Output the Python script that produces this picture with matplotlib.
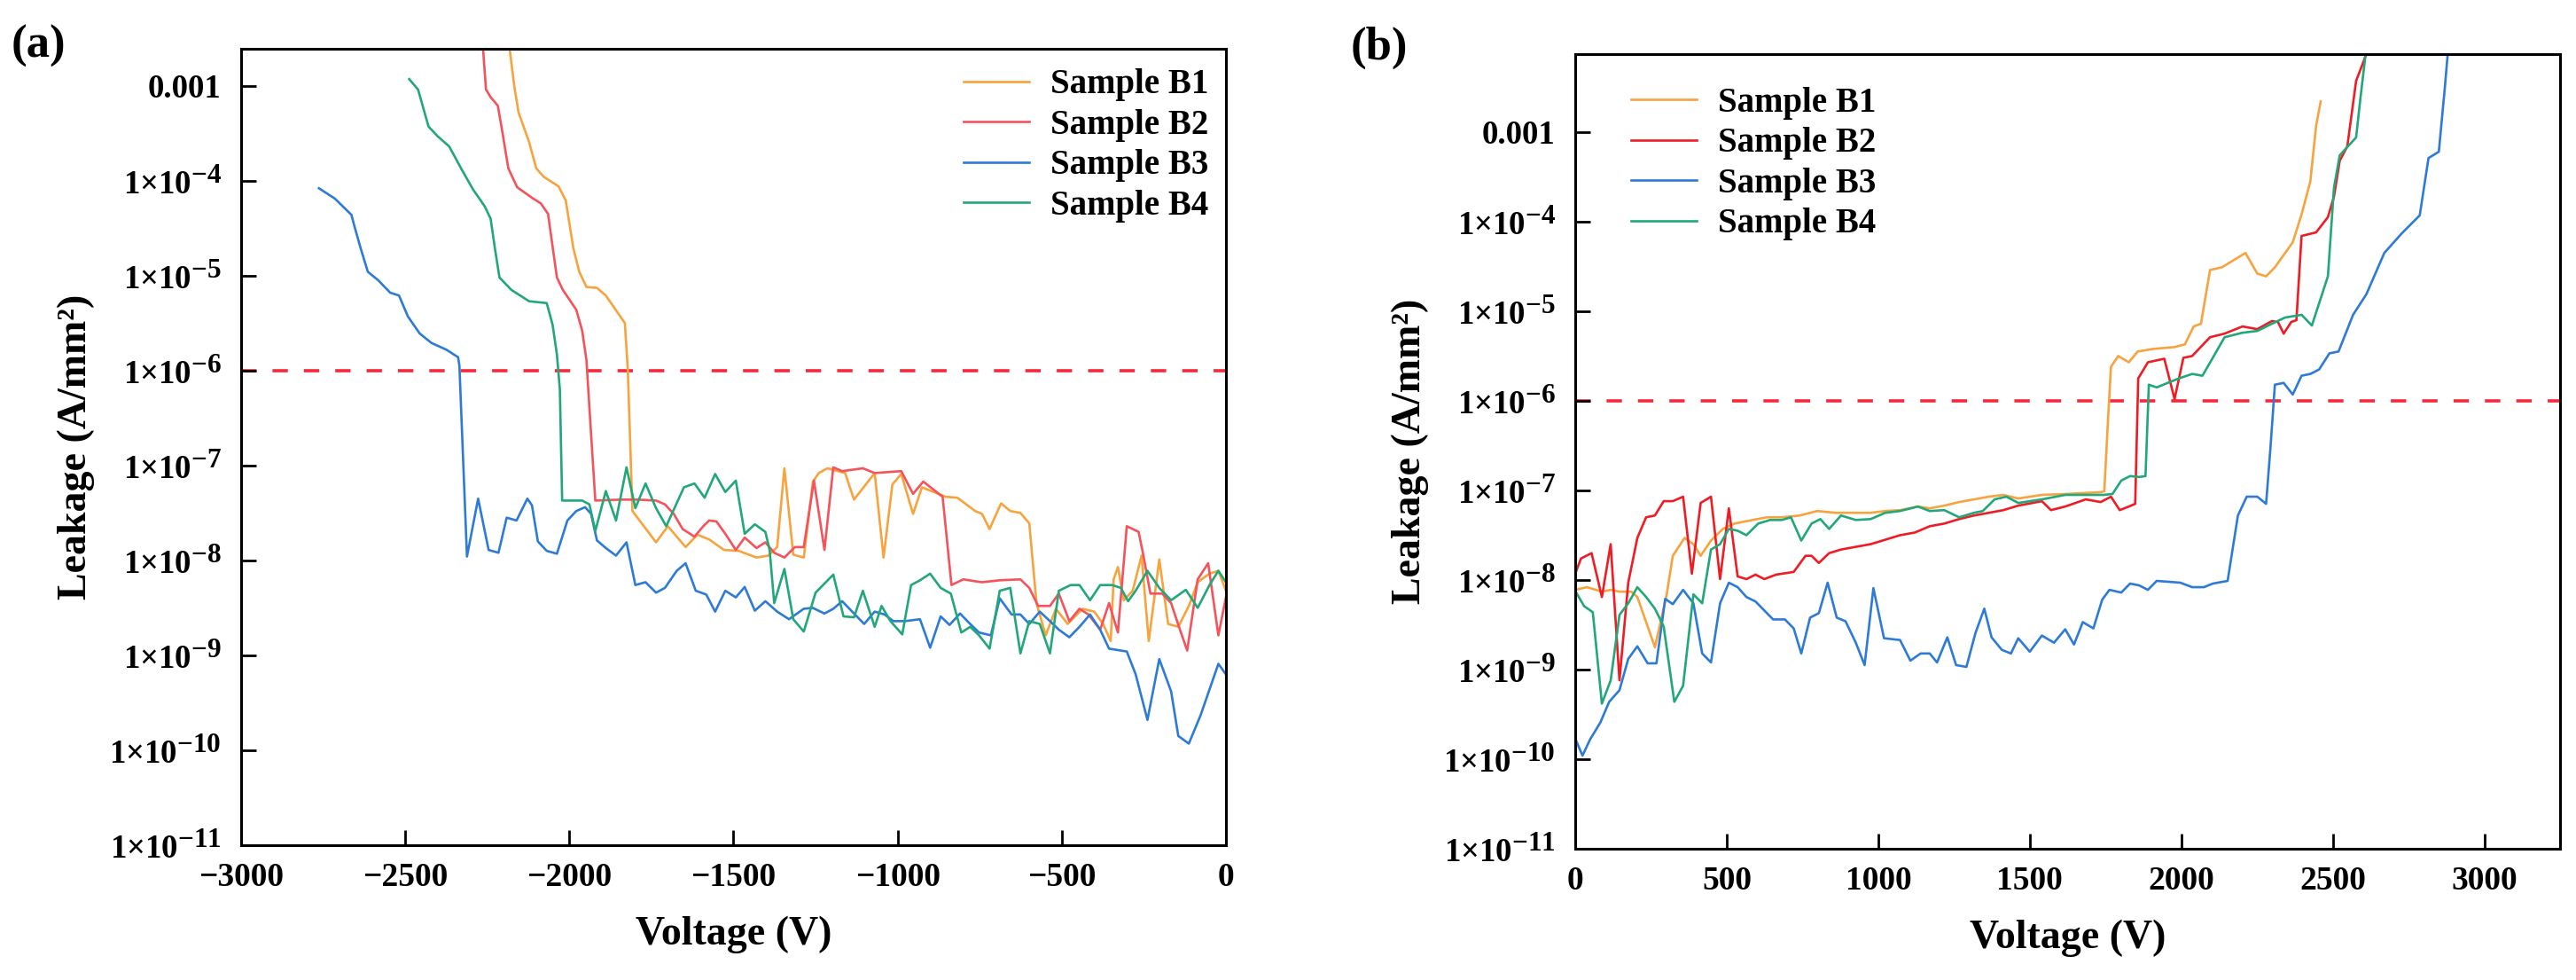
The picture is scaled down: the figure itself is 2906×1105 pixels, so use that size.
import numpy as np
import matplotlib
matplotlib.use("Agg")
import matplotlib.pyplot as plt
import matplotlib._mathtext as mathtext_impl
from matplotlib.ticker import FixedLocator, FuncFormatter, NullLocator

plt.rcParams['font.family'] = ['Liberation Serif', 'DejaVu Serif']
plt.rcParams['font.weight'] = 'bold'
plt.rcParams['mathtext.fontset'] = 'custom'
plt.rcParams['mathtext.rm'] = 'Liberation Serif:bold'
plt.rcParams['mathtext.bf'] = 'Liberation Serif:bold'
plt.rcParams['mathtext.it'] = 'Liberation Serif:bold'
# exponents in the original tick labels are almost full size
mathtext_impl.SHRINK_FACTOR = 0.85

# (voltage V, log10 leakage A/mm^2)
a_b1 = [(-2195, -2.40), (-2182, -2.61), (-2168, -3.00), (-2155, -3.28), (-2123, -3.59),
        (-2101, -3.87), (-2078, -3.96), (-2033, -4.06), (-2011, -4.21), (-1988, -4.71),
        (-1970, -4.96), (-1948, -5.12), (-1916, -5.13), (-1889, -5.21), (-1831, -5.50),
        (-1822, -5.99), (-1808, -7.48), (-1736, -7.81), (-1700, -7.64), (-1646, -7.86),
        (-1610, -7.73), (-1574, -7.78), (-1529, -7.89), (-1484, -7.90), (-1430, -7.97),
        (-1394, -7.95), (-1367, -7.86), (-1345, -7.03), (-1318, -7.94), (-1286, -7.97),
        (-1258, -7.17), (-1240, -7.08), (-1214, -7.03), (-1160, -7.08), (-1133, -7.36),
        (-1070, -7.08), (-1043, -7.97), (-1016, -7.20), (-989, -7.09), (-953, -7.51),
        (-926, -7.23), (-854, -7.33), (-818, -7.34), (-764, -7.48), (-743, -7.51),
        (-720, -7.67), (-685, -7.40), (-657, -7.48), (-626, -7.50), (-599, -7.61),
        (-577, -8.45), (-549, -8.79), (-518, -8.51), (-482, -8.67), (-437, -8.51),
        (-401, -8.54), (-374, -8.67), (-351, -8.85), (-342, -8.20), (-329, -8.07),
        (-311, -8.42), (-284, -8.32), (-257, -7.95), (-235, -8.85), (-203, -7.99),
        (-176, -8.67), (-145, -8.70), (-113, -8.48), (-86, -8.23), (-50, -8.14),
        (-23, -8.11), (0, -8.32)]

a_b2 = [(-2270, -2.30), (-2263, -2.61), (-2254, -3.04), (-2240, -3.12), (-2218, -3.21),
        (-2204, -3.49), (-2186, -3.87), (-2159, -4.07), (-2114, -4.18), (-2087, -4.24),
        (-2065, -4.35), (-2038, -5.02), (-2020, -5.15), (-1979, -5.36), (-1961, -5.58),
        (-1948, -5.89), (-1939, -6.39), (-1921, -7.37), (-1844, -7.36), (-1790, -7.36),
        (-1736, -7.37), (-1709, -7.41), (-1682, -7.51), (-1655, -7.67), (-1619, -7.75),
        (-1592, -7.64), (-1574, -7.58), (-1552, -7.59), (-1525, -7.72), (-1493, -7.89),
        (-1466, -7.76), (-1430, -7.87), (-1403, -7.81), (-1376, -7.92), (-1345, -7.97),
        (-1313, -7.86), (-1286, -7.86), (-1255, -7.16), (-1223, -7.89), (-1196, -7.02),
        (-1169, -7.06), (-1106, -7.03), (-1070, -7.08), (-989, -7.06), (-953, -7.30),
        (-922, -7.17), (-863, -7.33), (-836, -8.26), (-800, -8.20), (-764, -8.22),
        (-743, -8.23), (-689, -8.21), (-626, -8.20), (-599, -8.29), (-572, -8.48),
        (-536, -8.48), (-509, -8.35), (-477, -8.64), (-446, -8.51), (-419, -8.57),
        (-383, -8.73), (-356, -8.45), (-329, -8.76), (-302, -7.64), (-266, -7.70),
        (-253, -7.92), (-230, -8.35), (-194, -8.35), (-167, -8.45), (-140, -8.73),
        (-118, -8.95), (-86, -8.20), (-54, -8.03), (-23, -8.79), (0, -8.39)]

a_b3 = [(-2763, -4.08), (-2714, -4.19), (-2664, -4.36), (-2654, -4.49), (-2636, -4.71),
        (-2614, -4.96), (-2582, -5.05), (-2546, -5.18), (-2519, -5.21), (-2492, -5.43),
        (-2456, -5.61), (-2420, -5.71), (-2375, -5.78), (-2339, -5.86), (-2335, -5.95),
        (-2312, -7.96), (-2278, -7.35), (-2246, -7.89), (-2216, -7.92), (-2191, -7.55),
        (-2161, -7.58), (-2128, -7.35), (-2114, -7.42), (-2096, -7.80), (-2069, -7.90),
        (-2038, -7.93), (-2006, -7.58), (-1979, -7.48), (-1952, -7.44), (-1934, -7.51),
        (-1916, -7.79), (-1889, -7.87), (-1858, -7.95), (-1826, -7.81), (-1799, -8.26),
        (-1768, -8.23), (-1736, -8.34), (-1709, -8.29), (-1673, -8.11), (-1646, -8.03),
        (-1615, -8.32), (-1583, -8.36), (-1556, -8.54), (-1525, -8.32), (-1493, -8.39),
        (-1466, -8.28), (-1435, -8.53), (-1403, -8.43), (-1367, -8.54), (-1331, -8.62),
        (-1286, -8.51), (-1259, -8.50), (-1223, -8.56), (-1196, -8.51), (-1169, -8.43),
        (-1133, -8.56), (-1102, -8.67), (-1070, -8.54), (-1040, -8.57), (-1013, -8.64),
        (-977, -8.64), (-932, -8.62), (-901, -8.92), (-869, -8.59), (-842, -8.68),
        (-810, -8.56), (-779, -8.67), (-752, -8.76), (-716, -8.79), (-689, -8.40),
        (-653, -8.57), (-626, -8.57), (-599, -8.67), (-567, -8.54), (-536, -8.64),
        (-509, -8.73), (-477, -8.81), (-446, -8.70), (-414, -8.57), (-383, -8.73),
        (-356, -8.93), (-302, -8.96), (-275, -9.20), (-239, -9.68), (-203, -9.04),
        (-167, -9.38), (-145, -9.85), (-113, -9.93), (-77, -9.63), (-23, -9.09),
        (0, -9.20)]

a_b4 = [(-2488, -2.93), (-2461, -3.04), (-2429, -3.43), (-2402, -3.53), (-2366, -3.64),
        (-2330, -3.87), (-2294, -4.09), (-2258, -4.27), (-2240, -4.40), (-2227, -4.71),
        (-2213, -5.02), (-2177, -5.15), (-2123, -5.27), (-2069, -5.29), (-2051, -5.52),
        (-2038, -5.83), (-2029, -6.20), (-2022, -7.37), (-1961, -7.37), (-1939, -7.41),
        (-1921, -7.69), (-1889, -7.27), (-1858, -7.58), (-1826, -7.02), (-1799, -7.45),
        (-1768, -7.19), (-1736, -7.45), (-1705, -7.64), (-1651, -7.23), (-1619, -7.19),
        (-1588, -7.34), (-1556, -7.09), (-1525, -7.28), (-1493, -7.16), (-1466, -7.72),
        (-1435, -7.62), (-1403, -7.70), (-1390, -7.89), (-1376, -8.45), (-1345, -8.09),
        (-1318, -8.62), (-1286, -8.75), (-1250, -8.34), (-1196, -8.15), (-1165, -8.59),
        (-1133, -8.60), (-1106, -8.32), (-1070, -8.70), (-1049, -8.48), (-1022, -8.64),
        (-986, -8.78), (-959, -8.26), (-932, -8.21), (-901, -8.14), (-869, -8.29),
        (-838, -8.35), (-806, -8.76), (-779, -8.70), (-752, -8.79), (-720, -8.93),
        (-689, -8.32), (-657, -8.29), (-626, -8.98), (-599, -8.64), (-567, -8.67),
        (-536, -8.98), (-509, -8.32), (-473, -8.26), (-446, -8.26), (-414, -8.42),
        (-383, -8.26), (-347, -8.26), (-320, -8.29), (-298, -8.43), (-275, -8.32),
        (-239, -8.11), (-203, -8.29), (-167, -8.42), (-122, -8.31), (-86, -8.50),
        (-50, -8.26), (-23, -8.11), (0, -8.23)]

b_b1 = [(0, -8.11), (39, -8.08), (88, -8.13), (117, -8.11), (146, -8.13), (185, -8.13),
        (205, -8.19), (263, -8.75), (302, -8.16), (322, -7.73), (361, -7.53), (390, -7.60),
        (414, -7.73), (448, -7.56), (487, -7.43), (526, -7.37), (585, -7.33), (634, -7.30),
        (682, -7.30), (741, -7.28), (799, -7.23), (858, -7.25), (926, -7.25), (975, -7.25),
        (1023, -7.23), (1072, -7.22), (1131, -7.18), (1170, -7.20), (1218, -7.17),
        (1267, -7.13), (1316, -7.10), (1365, -7.07), (1413, -7.05), (1462, -7.09),
        (1540, -7.05), (1617, -7.04), (1734, -7.02), (1746, -7.01), (1758, -6.23),
        (1768, -5.62), (1792, -5.50), (1827, -5.57), (1856, -5.45), (1909, -5.42),
        (1978, -5.40), (2012, -5.37), (2041, -5.17), (2065, -5.14), (2095, -4.54),
        (2134, -4.51), (2212, -4.35), (2251, -4.58), (2280, -4.61), (2309, -4.51),
        (2368, -4.23), (2397, -3.92), (2426, -3.55), (2445, -2.93), (2460, -2.66)]

b_b2 = [(0, -7.93), (19, -7.76), (54, -7.70), (88, -8.19), (117, -7.60), (146, -9.12),
        (175, -8.03), (205, -7.53), (234, -7.30), (263, -7.28), (292, -7.12), (322, -7.12),
        (356, -7.07), (385, -7.93), (414, -7.14), (448, -7.07), (478, -7.99), (507, -7.20),
        (536, -7.96), (565, -7.99), (595, -7.94), (624, -7.99), (663, -7.94), (721, -7.91),
        (760, -7.73), (780, -7.73), (804, -7.81), (838, -7.70), (877, -7.66), (926, -7.63),
        (975, -7.60), (1014, -7.56), (1072, -7.50), (1121, -7.47), (1170, -7.40),
        (1218, -7.37), (1267, -7.32), (1316, -7.28), (1365, -7.25), (1413, -7.22),
        (1462, -7.17), (1540, -7.12), (1570, -7.22), (1617, -7.18), (1685, -7.10),
        (1734, -7.13), (1768, -7.07), (1797, -7.22), (1827, -7.18), (1848, -7.15),
        (1858, -5.75), (1890, -5.57), (1944, -5.53), (1978, -5.98), (2007, -5.52),
        (2036, -5.50), (2095, -5.29), (2143, -5.25), (2202, -5.17), (2251, -5.20),
        (2299, -5.11), (2319, -5.12), (2338, -5.25), (2363, -5.12), (2380, -5.10),
        (2397, -4.16), (2445, -4.12), (2484, -3.95), (2504, -3.72), (2523, -3.32),
        (2548, -3.16), (2577, -2.43), (2611, -2.13), (2625, -1.90)]

b_b3 = [(0, -9.77), (24, -9.96), (49, -9.78), (83, -9.59), (112, -9.36), (146, -9.23),
        (175, -8.88), (205, -8.74), (239, -8.93), (268, -8.93), (297, -8.21), (322, -8.27),
        (356, -8.11), (390, -8.26), (419, -8.82), (448, -8.92), (478, -8.26), (507, -8.03),
        (536, -8.08), (565, -8.19), (595, -8.24), (624, -8.34), (653, -8.44), (692, -8.44),
        (721, -8.54), (746, -8.82), (775, -8.42), (804, -8.37), (833, -8.03), (863, -8.42),
        (892, -8.46), (926, -8.70), (955, -8.95), (984, -8.09), (1019, -8.65), (1072, -8.67),
        (1106, -8.90), (1140, -8.82), (1170, -8.82), (1194, -8.92), (1228, -8.64),
        (1257, -8.95), (1291, -8.97), (1321, -8.59), (1350, -8.32), (1374, -8.64),
        (1408, -8.78), (1438, -8.82), (1462, -8.65), (1500, -8.80), (1540, -8.62),
        (1580, -8.70), (1617, -8.55), (1646, -8.72), (1675, -8.47), (1710, -8.54),
        (1739, -8.22), (1763, -8.11), (1802, -8.14), (1831, -8.04), (1861, -8.06),
        (1890, -8.11), (1919, -8.01), (1997, -8.03), (2036, -8.08), (2075, -8.08),
        (2104, -8.04), (2153, -8.01), (2187, -7.28), (2216, -7.07), (2251, -7.07),
        (2280, -7.15), (2294, -6.54), (2309, -5.82), (2338, -5.80), (2368, -5.93),
        (2397, -5.72), (2426, -5.70), (2455, -5.65), (2489, -5.47), (2519, -5.45),
        (2567, -5.04), (2611, -4.81), (2670, -4.35), (2728, -4.13), (2787, -3.93),
        (2816, -3.29), (2850, -3.22), (2870, -2.50), (2879, -2.14), (2885, -1.90)]

b_b4 = [(0, -8.12), (29, -8.29), (58, -8.36), (88, -9.38), (117, -9.12), (146, -8.39),
        (175, -8.26), (205, -8.08), (234, -8.19), (263, -8.32), (292, -8.52), (327, -9.36),
        (356, -9.18), (390, -8.16), (419, -8.26), (448, -7.66), (478, -7.60), (507, -7.43),
        (536, -7.45), (565, -7.50), (604, -7.37), (643, -7.33), (682, -7.33), (712, -7.30),
        (746, -7.56), (780, -7.37), (809, -7.32), (838, -7.43), (877, -7.28), (926, -7.33),
        (975, -7.32), (1023, -7.25), (1072, -7.23), (1131, -7.18), (1170, -7.23),
        (1218, -7.22), (1267, -7.30), (1316, -7.25), (1345, -7.23), (1384, -7.10),
        (1423, -7.07), (1462, -7.14), (1540, -7.10), (1617, -7.05), (1744, -7.05),
        (1773, -7.04), (1802, -6.89), (1831, -6.84), (1861, -6.85), (1882, -6.84),
        (1893, -5.82), (1919, -5.85), (1992, -5.75), (2036, -5.70), (2070, -5.72),
        (2143, -5.29), (2202, -5.24), (2251, -5.22), (2299, -5.14), (2343, -5.07),
        (2397, -5.04), (2431, -5.16), (2484, -4.61), (2504, -3.62), (2523, -3.26),
        (2577, -3.06), (2592, -2.60), (2606, -2.20), (2612, -1.90)]

labels = ['Sample B1', 'Sample B2', 'Sample B3', 'Sample B4']
colors_a = ['#F7A33E', '#F4535C', '#2D7BD6', '#22A878']
colors_b = ['#F7A33E', '#EE1C24', '#2D7BD6', '#22A878']
limit = 1e-6
y_exponents = list(range(-11, -2))


def fmt_leak(val, pos):
    e = int(round(np.log10(val)))
    if e == -3:
        return '0.001'
    return r'$\mathbf{1{\times}10^{%d}}$' % e


def style_axis(ax, xlim, ytop, xticks):
    ax.set_yscale('log')
    ax.set_xlim(*xlim)
    ax.set_ylim(1e-11, ytop)
    ax.xaxis.set_major_locator(FixedLocator(xticks))
    ax.yaxis.set_major_locator(FixedLocator([10.0 ** e for e in y_exponents]))
    ax.yaxis.set_minor_locator(NullLocator())
    ax.yaxis.set_major_formatter(FuncFormatter(fmt_leak))
    ax.tick_params(axis='both', direction='in', length=12, width=2.0)
    ax.tick_params(axis='x', labelsize=27, pad=14)
    ax.tick_params(axis='y', labelsize=26.5, pad=16)
    for s in ax.spines.values():
        s.set_linewidth(2.2)
    ax.axhline(limit, color='#F5283C', lw=2.6, dashes=(4.8, 5.0), zorder=1)
    ax.set_xlabel('Voltage (V)', fontsize=33, fontweight='bold', labelpad=18)
    ax.set_ylabel('Leakage (A/mm\u00b2)', fontsize=33, fontweight='bold', labelpad=12)


fig = plt.figure(figsize=(29.06, 11.05), dpi=100)
ax1 = fig.add_axes([0.0936, 0.1376, 0.3823, 0.8127])
ax2 = fig.add_axes([0.6115, 0.1339, 0.3823, 0.8109])

for data, lab, col in zip([a_b1, a_b2, a_b3, a_b4], labels, colors_a):
    v, lg = np.array(data).T
    ax1.plot(v, 10.0 ** lg, color=col, lw=1.9, label=lab)
for data, lab, col in zip([b_b1, b_b2, b_b3, b_b4], labels, colors_b):
    v, lg = np.array(data).T
    ax2.plot(v, 10.0 ** lg, color=col, lw=1.9, label=lab)

style_axis(ax1, (-3000, 0), 10 ** -2.61, [-3000, -2500, -2000, -1500, -1000, -500, 0])
style_axis(ax2, (0, 3250), 10 ** -2.13, [0, 500, 1000, 1500, 2000, 2500, 3000])

leg_kw = dict(frameon=False, fontsize=28, handlelength=1.9, handletextpad=0.6,
              labelspacing=0.22, borderpad=0, borderaxespad=0)
ax1.legend(loc='upper left', bbox_to_anchor=(0.734, 0.975), **leg_kw)
ax2.legend(loc='upper left', bbox_to_anchor=(0.057, 0.959), **leg_kw)

fig.text(13 / 2906, 1 - 28 / 1105, '(a)', fontsize=38, fontweight='bold', va='top', ha='left')
fig.text(1524 / 2906, 1 - 30 / 1105, '(b)', fontsize=38, fontweight='bold', va='top', ha='left')

fig.savefig('out.png', dpi=100)
